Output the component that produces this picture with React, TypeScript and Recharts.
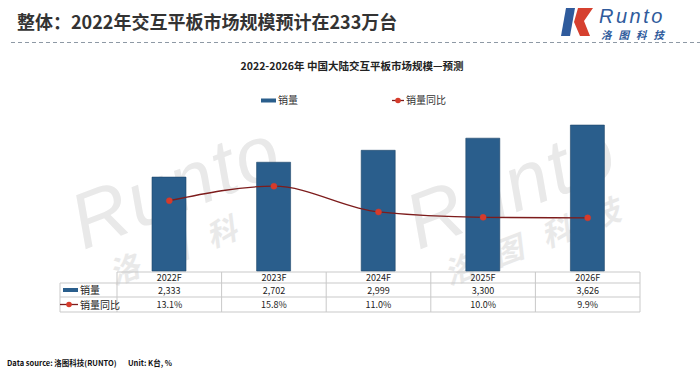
import { Bar, ComposedChart, Line, XAxis, YAxis } from 'recharts'

const years = ['2022F', '2023F', '2024F', '2025F', '2026F']
const sales = [2333, 2702, 2999, 3300, 3626]
const salesYoy = [13.1, 15.8, 11.0, 10.0, 9.9]

const BAR = '#2a5e8c'
const LINE = '#7d1c1c'
const DOT = '#d63b2b'
const GRID = '#c9c9c9'
const FONT = '"Noto Sans CJK SC", "Noto Sans", sans-serif'

const data = years.map((year, i) => ({ year, sales: sales[i], yoy: salesYoy[i] }))

// plot box (px) — the table columns line up with the category bands
const PL = 117
const PR = 640
const COL = (PR - PL) / years.length
const ROWS = [272, 283, 297, 312]

function Watermark({ dx }: { dx: number }) {
  return (
    <g transform={`translate(${dx} 0) rotate(-21 180 200)`} fill="#e9e9e9">
      <text x={72} y={212} fontSize={78} fontStyle="italic" letterSpacing={2} fontFamily="Liberation Sans, sans-serif">
        Runto
      </text>
      <text x={88} y={256} fontSize={30} fontWeight={700} fontStyle="italic" letterSpacing={22} fontFamily={FONT}>
        洛图科技
      </text>
    </g>
  )
}

function Backdrop() {
  return (
    <svg width={700} height={372} style={{ position: 'absolute', left: 0, top: 0 }}>
      <rect width={700} height={372} fill="#fff" />
      <Watermark dx={0} />
      <Watermark dx={335} />

      {/* heading */}
      <text x={17} y={29} fontSize={18} fontWeight={700} fill="#333" fontFamily={FONT}>
        整体：2022年交互平板市场规模预计在233万台
      </text>
      <line x1={11} x2={700} y1={42.5} y2={42.5} stroke="#8e99a5" strokeDasharray="4 3" />

      {/* logo */}
      <polygon points="566,8 575,8 570,36 561,36" fill="#2f5b9c" />
      <polygon points="578,8 593,8 584,21 590,36 580,36 574,22" fill="#d6402f" />
      <text x={599} y={23} fontSize={20} fontStyle="italic" letterSpacing={2.5} fill="#2f5b9c" fontFamily="Liberation Sans, sans-serif">
        Runto
      </text>
      <text x={601} y={39} fontSize={10.5} fontWeight={700} fontStyle="italic" letterSpacing={7} fill="#2f5b9c" fontFamily={FONT}>
        洛图科技
      </text>

      {/* chart title + legend */}
      <text x={352} y={70} fontSize={10.5} fontWeight={700} textAnchor="middle" fill="#222" fontFamily={FONT}>
        2022-2026年  中国大陆交互平板市场规模—预测
      </text>
      <rect x={261} y={98.5} width={15} height={4} fill={BAR} />
      <text x={278} y={103.5} fontSize={10} fill="#333" fontFamily={FONT}>销量</text>
      <line x1={392} x2={404} y1={100.5} y2={100.5} stroke={LINE} strokeWidth={1.3} />
      <circle cx={398} cy={100.5} r={2.8} fill={DOT} />
      <text x={406} y={103.5} fontSize={10} fill="#333" fontFamily={FONT}>销量同比</text>

      {/* data table */}
      <line x1={PL} x2={PR} y1={ROWS[0]} y2={ROWS[0]} stroke={GRID} />
      {ROWS.slice(1).map((y) => (
        <line key={y} x1={60} x2={PR} y1={y} y2={y} stroke={GRID} />
      ))}
      <line x1={60} x2={60} y1={ROWS[1]} y2={ROWS[3]} stroke={GRID} />
      {years.map((_, i) => (
        <line key={i} x1={PL + i * COL} x2={PL + i * COL} y1={ROWS[0]} y2={ROWS[3]} stroke={GRID} />
      ))}
      <line x1={PR} x2={PR} y1={ROWS[0]} y2={ROWS[3]} stroke={GRID} />
      {years.map((y, i) => {
        const cx = PL + (i + 0.5) * COL
        return (
          <g key={y} fontSize={9} fill="#222" textAnchor="middle" fontFamily={FONT}>
            <text x={cx} y={281}>{y}</text>
            <text x={cx} y={293.5}>{sales[i].toLocaleString('en-US')}</text>
            <text x={cx} y={308}>{salesYoy[i].toFixed(1)}%</text>
          </g>
        )
      })}
      <rect x={63} y={288} width={15} height={4} fill={BAR} />
      <text x={80} y={294} fontSize={10} fill="#222" fontFamily={FONT}>销量</text>
      <line x1={60} x2={78} y1={304.5} y2={304.5} stroke={LINE} strokeWidth={1.3} />
      <circle cx={69} cy={304.5} r={2.8} fill={DOT} />
      <text x={80} y={308.5} fontSize={10} fill="#222" fontFamily={FONT}>销量同比</text>

      {/* footer */}
      <g fontSize={7.5} fontWeight={700} fill="#111" fontFamily={FONT}>
        <text x={7} y={366}>Data source: 洛图科技(RUNTO)</text>
        <text x={128} y={366}>Unit: K台, %</text>
      </g>
    </svg>
  )
}

export default function App() {
  return (
    <div style={{ position: 'absolute', left: 0, top: 0, width: 700, height: 372, overflow: 'hidden' }}>
      <Backdrop />
      <div style={{ position: 'absolute', left: 0, top: 0 }}>
        <ComposedChart
          width={700}
          height={372}
          data={data}
          margin={{ top: 110, right: 700 - PR, bottom: 372 - 271, left: PL }}
        >
          <XAxis dataKey="year" hide />
          <YAxis yAxisId="l" domain={[0, 4000]} hide />
          <YAxis yAxisId="r" orientation="right" domain={[0, 30]} hide />
          <Bar yAxisId="l" dataKey="sales" fill={BAR} stroke="#1d4468" strokeWidth={0.6} barSize={34} isAnimationActive={false} />
          <Line
            yAxisId="r"
            dataKey="yoy"
            type="monotone"
            stroke={LINE}
            strokeWidth={1.3}
            dot={{ r: 3, fill: DOT, stroke: DOT, strokeWidth: 0.5 }}
            isAnimationActive={false}
          />
        </ComposedChart>
      </div>
    </div>
  )
}
